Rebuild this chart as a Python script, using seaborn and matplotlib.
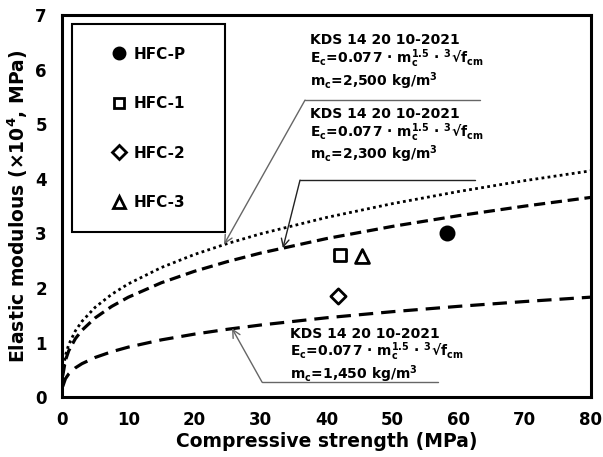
import numpy as np
import pandas as pd
import matplotlib
matplotlib.use("Agg")
import matplotlib.pyplot as plt
import seaborn as sns
from matplotlib.lines import Line2D
from matplotlib.patches import Rectangle

# ---- data ----
fcm = [0.1, 0.5, 1, 2, 3, 5, 7.5, 10, 15, 20, 25, 30, 40, 50, 60, 70, 80]
ec_2500 = [0.447, 0.764, 0.963, 1.213, 1.388, 1.646, 1.884, 2.074, 2.374, 2.613,
           2.814, 2.991, 3.292, 3.546, 3.768, 3.967, 4.147]
ec_2300 = [0.394, 0.674, 0.849, 1.070, 1.225, 1.452, 1.662, 1.830, 2.095, 2.305,
           2.483, 2.639, 2.905, 3.129, 3.325, 3.500, 3.660]
ec_1450 = [0.197, 0.337, 0.425, 0.536, 0.613, 0.727, 0.832, 0.916, 1.049, 1.154,
           1.243, 1.321, 1.454, 1.566, 1.664, 1.752, 1.832]

specimens = ["HFC-P", "HFC-1", "HFC-2", "HFC-3"]
spec_x = [58.2, 42.0, 41.8, 45.4]
spec_y = [3.00, 2.60, 1.85, 2.58]

eq_line = "E$_\\mathbf{c}$=0.077 · m$_\\mathbf{c}^\\mathbf{1.5}$ · $^\\mathbf{3}$√f$_\\mathbf{cm}$"
ann_lines = [
    ["KDS 14 20 10-2021", eq_line, "m$_\\mathbf{c}$=2,500 kg/m$^\\mathbf{3}$"],
    ["KDS 14 20 10-2021", eq_line, "m$_\\mathbf{c}$=2,300 kg/m$^\\mathbf{3}$"],
    ["KDS 14 20 10-2021", eq_line, "m$_\\mathbf{c}$=1,450 kg/m$^\\mathbf{3}$"],
]

# ---- style ----
sns.set_style("white")
plt.rcParams["font.family"] = ["DejaVu Sans"]
plt.rcParams["font.weight"] = "bold"
plt.rcParams["mathtext.fontset"] = "dejavusans"
plt.rcParams["text.color"] = "black"
plt.rcParams["axes.labelcolor"] = "black"
plt.rcParams["xtick.color"] = "black"
plt.rcParams["ytick.color"] = "black"

fig = plt.figure(figsize=(6.03, 4.57), dpi=100)
ax = fig.add_axes([0.103, 0.131, 0.877, 0.836])

curves = pd.DataFrame({"x": fcm, "a": ec_2500, "b": ec_2300, "c": ec_1450})
sns.lineplot(data=curves, x="x", y="a", ax=ax, color="black", lw=2.0,
             linestyle=(0, (1, 1.2)))
sns.lineplot(data=curves, x="x", y="b", ax=ax, color="black", lw=2.3,
             linestyle=(0, (3.5, 1.8)))
sns.lineplot(data=curves, x="x", y="c", ax=ax, color="black", lw=2.3,
             linestyle=(0, (4.5, 2.5)))

pts = pd.DataFrame({"x": spec_x, "y": spec_y, "s": specimens})
markers = {"HFC-P": "o", "HFC-1": "s", "HFC-2": "D", "HFC-3": "^"}
faces = {"HFC-P": "black", "HFC-1": "white", "HFC-2": "white", "HFC-3": "white"}
msize = {"HFC-P": 90, "HFC-1": 75, "HFC-2": 60, "HFC-3": 100}
for s in specimens:
    sub = pts[pts["s"] == s]
    sns.scatterplot(data=sub, x="x", y="y", ax=ax, marker=markers[s], s=msize[s],
                    facecolor=faces[s], edgecolor="black", linewidth=2.0, zorder=5,
                    legend=False)

ax.set_xlim(0, 80)
ax.set_ylim(0, 7)
ax.set_xticks(np.arange(0, 81, 10))
ax.set_yticks(np.arange(0, 8, 1))
ax.tick_params(direction="in", length=5, width=2, labelsize=12)
ax.tick_params(axis="y", pad=11)
ax.tick_params(axis="x", pad=10)
for lab in ax.get_xticklabels() + ax.get_yticklabels():
    lab.set_fontweight("bold")
for sp in ax.spines.values():
    sp.set_linewidth(2.2)
    sp.set_color("black")
ax.set_xlabel("Compressive strength (MPa)", fontsize=13.5, fontweight="bold", labelpad=2)
ax.set_ylabel("Elastic modulous (×10$^\\mathbf{4}$, MPa)", fontsize=13.5, fontweight="bold", labelpad=4)

# legend box
ax.add_patch(Rectangle((0.019, 0.431), 0.289, 0.545, transform=ax.transAxes,
                       facecolor="white", edgecolor="black", lw=1.5, zorder=6))
handles = [Line2D([], [], linestyle="none", marker=markers[s], markersize=
                  {"HFC-P": 8, "HFC-1": 7.5, "HFC-2": 7, "HFC-3": 9}[s],
                  markerfacecolor=faces[s], markeredgecolor="black", markeredgewidth=2)
           for s in specimens]
leg = ax.legend(handles, specimens, loc="center", bbox_to_anchor=(0.1635, 0.7035),
                bbox_transform=ax.transAxes, frameon=False,
                labelspacing=2.25, handlelength=1.0, handletextpad=0.4,
                prop={"weight": "bold", "size": 11})
leg.set_zorder(7)

# annotations (one multi-line text each)
text_pos = [(0.469, 0.952), (0.469, 0.759), (0.430, 0.184)]
for (tx, ty), lines in zip(text_pos, ann_lines):
    ax.text(tx, ty, "\n".join(lines), transform=ax.transAxes, fontsize=10,
            fontweight="bold", va="top", ha="left", linespacing=1.0)

def px2ax(px, py):
    return ((px - 62) / 529, (397 - py) / 382)

guide = [
    ((305, 100), (480, 100), (24.5, 2.80), "#666666"),
    ((300, 180), (475, 180), (33.4, 2.73), "#222222"),
    ((262, 382), (438, 382), (25.7, 1.26), "#666666"),
]
for (p0, p1, tip, col) in guide:
    a0 = px2ax(*p0)
    a1 = px2ax(*p1)
    ax.plot([a0[0], a1[0]], [a0[1], a1[1]], transform=ax.transAxes, color=col, lw=1.0)
    ax.annotate("", xy=tip, xycoords="data", xytext=a0, textcoords="axes fraction",
                arrowprops=dict(arrowstyle="->", color=col, lw=1.0, shrinkA=0, shrinkB=0,
                                mutation_scale=14))

fig.savefig("out.png", dpi=100)
